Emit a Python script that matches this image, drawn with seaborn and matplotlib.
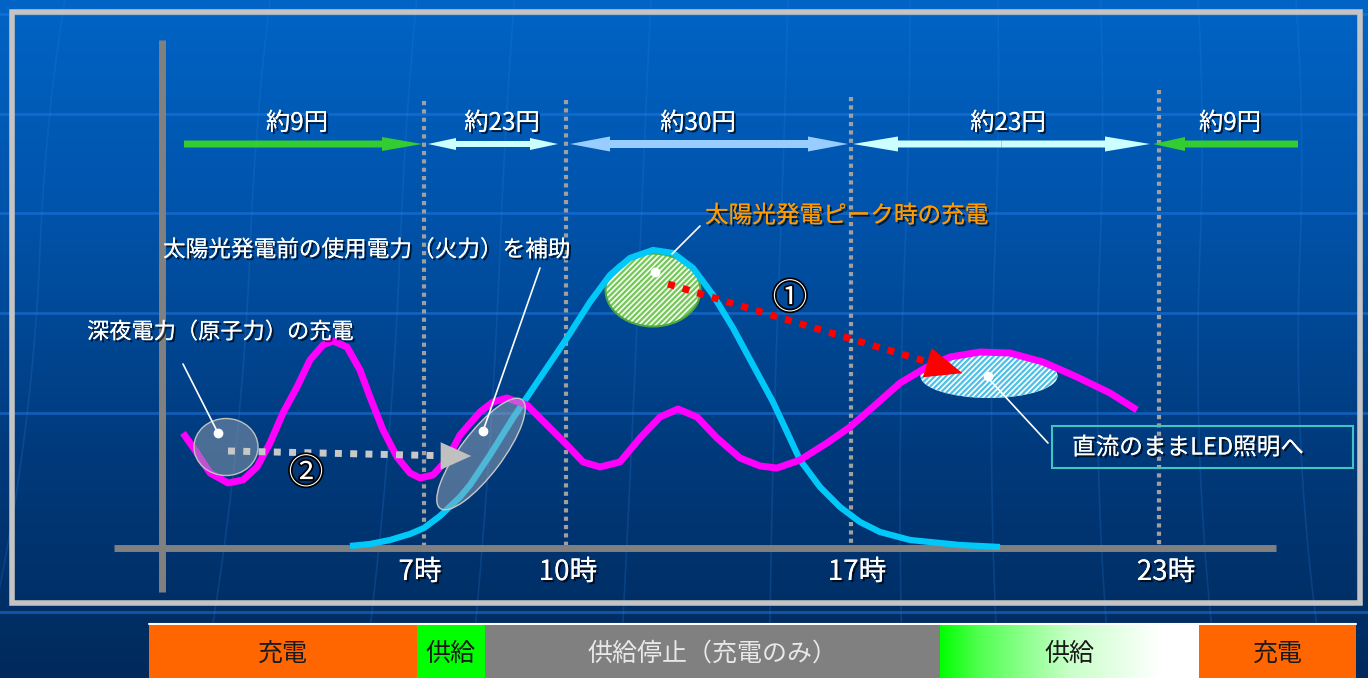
import numpy as np
import matplotlib
matplotlib.use('Agg')
import matplotlib.pyplot as plt
import matplotlib.patheffects as pe
from matplotlib.patches import Ellipse, Rectangle
from matplotlib.colors import LinearSegmentedColormap
import seaborn as sns
import pandas as pd

# ---------------- data ----------------
hour_labels = ['7時', '10時', '17時', '23時']
hour_x = [424, 566, 851, 1159]
hour_label_x = [420, 568, 857, 1166]

price_labels = ['約9円', '約23円', '約30円', '約23円', '約9円']
price_label_x = [297, 502, 698, 1008, 1230]
price_start = [184, 428, 570, 853, 1298]
price_end = [422, 558, 848, 1150, 1153]
price_double = [False, True, True, True, False]

# consumption (magenta) curve
mag_x = [183, 197, 210, 228, 243, 257, 270, 283, 297, 310, 323, 333, 347, 360, 370, 383, 397,
         410, 420, 433, 447, 460, 480, 493, 507, 527, 547, 567, 583, 600, 620, 640, 660, 678,
         697, 717, 740, 760, 777, 800, 827, 850, 873, 900, 927, 950, 980, 1010, 1043, 1077,
         1110, 1137]
mag_y = [433, 453, 473, 483, 480, 467, 443, 413, 387, 360, 345, 341, 347, 370, 397, 430, 457,
         473, 478, 475, 460, 435, 412, 402, 398, 405, 425, 445, 462, 467, 462, 438, 417, 409,
         417, 438, 458, 466, 468, 460, 443, 427, 407, 383, 367, 357, 352, 353, 362, 377,
         393, 410]

# solar generation (cyan) curve
sol_x = [350, 370, 390, 410, 424, 440, 460, 470, 490, 513, 540, 567, 590, 610, 630, 653, 673,
         693, 713, 733, 753, 773, 787, 800, 820, 840, 860, 880, 910, 940, 960, 1000]
sol_y = [546, 544, 540, 534, 528, 516, 497, 485, 455, 418, 378, 338, 302, 275, 258, 250, 253,
         268, 295, 328, 365, 402, 432, 460, 487, 507, 522, 532, 540, 543, 545, 547]

band_edges = [149, 417, 485, 940, 1199, 1356]
band_labels = ['充電', '供給', '供給停止（充電のみ）', '供給', '充電']
band_colors = ['#ff6600', '#00ff00', '#808080', None, '#ff6600']
band_text_colors = ['#1a1a1a', '#1a1a1a', '#e8e8e8', '#1a1a1a', '#1a1a1a']

# ---------------- figure ----------------
sns.set_theme(style='white')
plt.rcParams['font.family'] = ['Noto Sans CJK JP', 'DejaVu Sans']
plt.rcParams['hatch.linewidth'] = 1.6

W, H = 1368, 678
fig = plt.figure(figsize=(13.68, 6.78), dpi=100)
ax = fig.add_axes([0, 0, 1, 1])
ax.set_xlim(0, W)
ax.set_ylim(H, 0)
ax.axis('off')

# background gradient
bg = LinearSegmentedColormap.from_list('bg', ['#0064c6', '#0052a8', '#003a7c', '#002a5c'])
grad = np.linspace(0, 1, 256).reshape(-1, 1)
ax.imshow(grad, cmap=bg, extent=(0, W, H, 0), aspect='auto', zorder=0)

# decorative globe lines
for yy in [14, 114, 213, 313, 413, 612]:
    ax.plot([0, W], [yy, yy], color='#1f78e0', lw=2, alpha=0.55, zorder=0.5)
yy = np.linspace(0, H, 100)
for x0 in [40, 250, 400, 500, 640, 780, 905, 995, 1100, 1200, 1300]:
    c = (x0 - 684) / 684.0
    xx = x0 + 40 * c * ((yy - 250) / 400.0) ** 2 * np.sign(yy - 250) - 0.04 * (yy - 250)
    ax.plot(xx, yy, color='#2a80e0', lw=1.2, alpha=0.22, zorder=0.5)

# frame
ax.add_patch(Rectangle((12, 12), 1348, 591, fill=False, ec='#c4c4c4', lw=4, zorder=1))

# axes lines
ax.plot([162, 162], [40, 592], color='#808080', lw=5, solid_capstyle='butt', zorder=2)
ax.plot([114, 1276], [548, 548], color='#808080', lw=5, solid_capstyle='butt', zorder=2)

# dotted hour lines
for hx, top in zip(hour_x, [101, 100, 97, 90]):
    ax.plot([hx, hx], [top, 545], color='#a0a0a0', lw=3, ls=(0, (1, 1)), zorder=2)

shadow = [pe.withSimplePatchShadow(offset=(1.5, -1.5), shadow_rgbFace='black', alpha=0.7),
          pe.Normal()]

# hour labels
for lab, hx in zip(hour_labels, hour_label_x):
    ax.text(hx, 572, lab, color='white', fontsize=20, ha='center', va='center',
            path_effects=shadow, zorder=5)

# price arrows
arrow_colors = ['#33cc33', '#ccffff', '#99ccff', '#ccffff', '#33cc33']
shaft_w = [7, 6, 8, 7, 7]
head_w = [14, 12, 15, 15, 14]
head_l = [40, 28, 40, 45, 32]
ay = 144
for s, e, dbl, col, sw, hw, hl in zip(price_start, price_end, price_double, arrow_colors,
                                      shaft_w, head_w, head_l):
    if dbl:
        m = (s + e) / 2
        ax.arrow(m, ay, e - m, 0, width=sw, head_width=hw, head_length=hl,
                 length_includes_head=True, fc=col, ec='none', zorder=3)
        ax.arrow(m, ay, s - m, 0, width=sw, head_width=hw, head_length=hl,
                 length_includes_head=True, fc=col, ec='none', zorder=3)
    else:
        ax.arrow(s, ay, e - s, 0, width=sw, head_width=hw, head_length=hl,
                 length_includes_head=True, fc=col, ec='none', zorder=3)
for lab, lx in zip(price_labels, price_label_x):
    ax.text(lx, 123, lab, color='white', fontsize=17.5, ha='center', va='center',
            path_effects=shadow, zorder=5)

# hatched ellipses (under curves)
ax.add_patch(Ellipse((653, 290), 95, 73, fc='#f6fcf2', ec='#74c858', hatch='//////', lw=0, zorder=3))
ax.add_patch(Ellipse((653, 290), 95, 73, fill=False, ec='#4ca840', lw=1.5, zorder=3.1))
ax.add_patch(Ellipse((989, 376), 137, 44, fc='white', ec='#4cc0e8', hatch='//////', lw=0, zorder=3))

# curves
df_sol = pd.DataFrame({'x': sol_x, 'y': sol_y})
df_mag = pd.DataFrame({'x': mag_x, 'y': mag_y})
sns.lineplot(data=df_sol, x='x', y='y', sort=False, color='#00c8f8', lw=4.5, ax=ax, zorder=4,
             solid_joinstyle='round', solid_capstyle='butt')
sns.lineplot(data=df_mag, x='x', y='y', sort=False, color='#ff00ff', lw=5, ax=ax, zorder=4,
             solid_joinstyle='round', solid_capstyle='butt')
ax.set_xlim(0, W)
ax.set_ylim(H, 0)
ax.axis('off')

# gray ellipses (semi-transparent, above curves)
ax.add_patch(Ellipse((226, 447), 64, 57, fc='#8899aa', alpha=0.55, ec='none', zorder=4.5))
ax.add_patch(Ellipse((226, 447), 64, 57, fill=False, ec='#c0c0c0', lw=1, zorder=4.6))
ax.add_patch(Ellipse((481, 454), 136, 42, angle=-53, fc='#9aa8b8', alpha=0.5, ec='none', zorder=4.5))
ax.add_patch(Ellipse((481, 454), 136, 42, angle=-53, fill=False, ec='#c8c8c8', lw=1, zorder=4.6))

# leader lines & dots
for (x1, y1), (x2, y2) in [((218, 433), (183, 364)), ((483, 431), (540, 268)),
                           ((672, 254), (700, 226)), ((988, 378), (1048, 443))]:
    ax.plot([x1, x2], [y1, y2], color='white', lw=1.2, zorder=6)
for (dx, dy) in [(218, 433), (483, 431), (655, 272), (988, 376)]:
    ax.plot(dx, dy, 'o', color='white', ms=6, zorder=6)

# dotted arrows
ax.plot([668, 948], [284, 368], color='#ff0000', lw=5, ls=(0, (1, 1.2)), zorder=5.5,
        solid_capstyle='butt')
ax.annotate('', xy=(965, 374), xytext=(935, 365),
            arrowprops=dict(arrowstyle='-|>,head_length=1.2,head_width=0.5', color='#ff0000',
                            lw=0, mutation_scale=22), zorder=5.6)
ax.plot([228, 455], [451, 456], color='#c8c8c8', lw=5, ls=(0, (1, 1.2)), zorder=5.5)
ax.annotate('', xy=(474, 456), xytext=(450, 456),
            arrowprops=dict(arrowstyle='-|>,head_length=1.0,head_width=0.45', color='#c0c0c0',
                            lw=0, mutation_scale=22), zorder=5.6)

# circled numbers
outline = [pe.withStroke(linewidth=2.5, foreground='black')]
ax.text(790, 299, '①', color='white', fontsize=25, ha='center', va='center',
        path_effects=outline, zorder=6)
ax.text(306, 474, '②', color='white', fontsize=25, ha='center', va='center',
        path_effects=outline, zorder=6)

# annotation texts
ax.text(163, 250, '太陽光発電前の使用電力（火力）を補助', color='white', fontsize=16.3,
        ha='left', va='center', path_effects=shadow, zorder=6)
ax.text(87, 332, '深夜電力（原子力）の充電', color='white', fontsize=16,
        ha='left', va='center', path_effects=shadow, zorder=6)
ax.text(705, 216, '太陽光発電ピーク時の充電', color='#ff9900', fontsize=17,
        ha='left', va='center', path_effects=shadow, zorder=6)

# LED box
ax.add_patch(Rectangle((1052, 426), 301, 42, fill=False, ec='#40c4c4', lw=1.5, zorder=5))
ax.text(1188, 448, '直流のままLED照明へ', color='white', fontsize=17, ha='center',
        va='center', path_effects=shadow, zorder=6)

# bottom band
ax.plot([band_edges[0], band_edges[-1]], [624, 624], color='white', lw=1.5, zorder=2)
for i, (lab, col, tcol) in enumerate(zip(band_labels, band_colors, band_text_colors)):
    x0, x1 = band_edges[i], band_edges[i + 1]
    if col is None:
        gcm = LinearSegmentedColormap.from_list('g', [(0, '#00ff00'), (0.15, '#50ff50'),
                                                      (0.5, '#c8ffc8'), (0.85, '#ffffff'),
                                                      (1, '#ffffff')])
        ax.imshow(np.linspace(0, 1, 256).reshape(1, -1), cmap=gcm,
                  extent=(x0, x1, H, 625), aspect='auto', zorder=2)
    else:
        ax.barh(y=(625 + H) / 2, width=x1 - x0, left=x0, height=H - 625, color=col,
                edgecolor='none', zorder=2)
    ax.text((x0 + x1) / 2, 654, lab, color=tcol, fontsize=18, ha='center', va='center', zorder=3)

ax.set_xlim(0, W)
ax.set_ylim(H, 0)
fig.savefig('out.png', dpi=100)
